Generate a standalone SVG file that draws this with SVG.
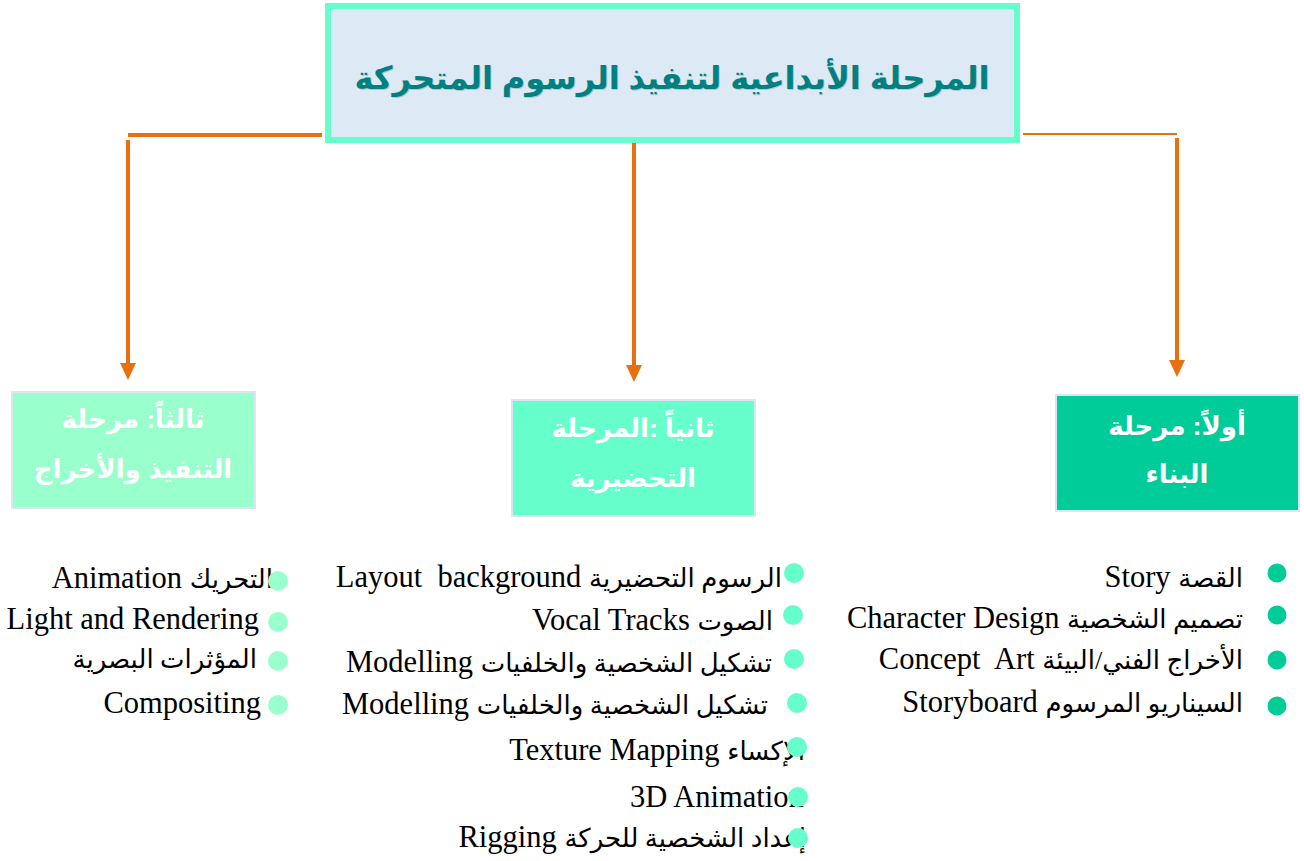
<svg xmlns="http://www.w3.org/2000/svg" width="1304" height="861" viewBox="0 0 1304 861">
<defs>
<style>
.conn{stroke:#E8700F;fill:none}
.head{fill:#E8700F}
.box{stroke:#DCE6F2;stroke-width:2}
.bt{font-family:"Liberation Sans","DejaVu Sans",sans-serif;font-weight:bold;font-size:26px;fill:#ffffff;text-anchor:middle}
.li{font-family:"Liberation Serif","DejaVu Serif","DejaVu Sans",serif;font-size:30.5px;fill:#000000;white-space:pre}
.ar{font-size:26px}
.e{text-anchor:end}
.b1{fill:#00CC99}
.b2{fill:#66FFCC}
.b3{fill:#99FFCC}
</style>
</defs>
<rect width="1304" height="861" fill="#ffffff"/>
<g id="connectors">
<line class="conn" x1="128" y1="135" x2="322" y2="135" stroke-width="4"/>
<line class="conn" x1="128" y1="140" x2="128" y2="366" stroke-width="4"/>
<polygon class="head" points="120,363 136,363 128,380"/>
<line class="conn" x1="634" y1="143" x2="634" y2="368" stroke-width="4"/>
<polygon class="head" points="626,365 642,365 634,382"/>
<line class="conn" x1="1023" y1="134" x2="1177" y2="134" stroke-width="2"/>
<line class="conn" x1="1177" y1="138" x2="1177" y2="362" stroke-width="4"/>
<polygon class="head" points="1169,360 1185,360 1177,377"/>
</g>
<g id="title">
<rect x="328" y="6" width="689" height="134" fill="#DDEAF5" stroke="#66FFCC" stroke-width="6"/>
<text x="673" y="90" font-family="'Liberation Sans','DejaVu Sans',sans-serif" font-weight="bold" font-size="32" fill="#B0C8C8" text-anchor="middle" direction="rtl">المرحلة الأبداعية لتنفيذ الرسوم المتحركة</text>
<text x="672" y="89" font-family="'Liberation Sans','DejaVu Sans',sans-serif" font-weight="bold" font-size="32" fill="#008080" text-anchor="middle" direction="rtl">المرحلة الأبداعية لتنفيذ الرسوم المتحركة</text>
</g>
<g id="node-third">
<rect class="box" x="12" y="392" width="243" height="116" fill="#99FFCC"/>
<text class="bt" x="133" y="428" direction="rtl">ثالثاً: مرحلة</text>
<text class="bt" x="133" y="478" direction="rtl">التنفيذ والأخراج</text>
</g>
<g id="node-second">
<rect class="box" x="512" y="400" width="243" height="116" fill="#66FFCC"/>
<text class="bt" x="633" y="437" direction="rtl">ثانياً :المرحلة</text>
<text class="bt" x="633" y="487" direction="rtl">التحضيرية</text>
</g>
<g id="node-first">
<rect class="box" x="1056" y="395" width="243" height="116" fill="#00CC99"/>
<text class="bt" x="1177" y="435" direction="rtl">أولاً: مرحلة</text>
<text class="bt" x="1177" y="483" direction="rtl">البناء</text>
</g>
<g id="list-first">
<text class="li e" x="1243" y="587">Story <tspan class="ar">القصة</tspan></text>
<text class="li e" x="1243" y="628">Character Design <tspan class="ar">تصميم الشخصية</tspan></text>
<text class="li e" x="1243" y="669">Concept  Art <tspan class="ar">الأخراج الفني/البيئة</tspan></text>
<text class="li e" x="1243" y="712">Storyboard <tspan class="ar">السيناريو المرسوم</tspan></text>
<circle class="b1" cx="1277" cy="573" r="9.5"/>
<circle class="b1" cx="1277" cy="615" r="9.5"/>
<circle class="b1" cx="1277" cy="660" r="9.5"/>
<circle class="b1" cx="1277" cy="706" r="9.5"/>
</g>
<g id="list-second">
<text class="li e" x="782" y="587">Layout  background <tspan class="ar">الرسوم التحضيرية</tspan></text>
<text class="li e" x="773" y="630">Vocal Tracks <tspan class="ar">الصوت</tspan></text>
<text class="li e" x="772" y="672">Modelling <tspan class="ar">تشكيل الشخصية والخلفيات</tspan></text>
<text class="li e" x="768" y="714">Modelling <tspan class="ar">تشكيل الشخصية والخلفيات</tspan></text>
<text class="li e" x="805" y="760">Texture Mapping <tspan class="ar">الإكساء</tspan></text>
<text class="li" x="630" y="807">3D Animation</text>
<text class="li e" x="806" y="847">Rigging <tspan class="ar">إعداد الشخصية للحركة</tspan></text>
<circle class="b2" cx="794" cy="573" r="10"/>
<circle class="b2" cx="793" cy="615" r="10"/>
<circle class="b2" cx="794" cy="659" r="10"/>
<circle class="b2" cx="797" cy="703" r="10"/>
<circle class="b2" cx="797" cy="747" r="10"/>
<circle class="b2" cx="798" cy="797" r="10"/>
<circle class="b2" cx="798" cy="838" r="10"/>
</g>
<g id="list-third">
<text class="li e" x="273" y="588">Animation <tspan class="ar">التحريك</tspan></text>
<text class="li e" x="259" y="629">Light and Rendering</text>
<text class="li e" x="257" y="668"><tspan class="ar">المؤثرات البصرية</tspan></text>
<text class="li e" x="261" y="713">Compositing</text>
<circle class="b3" cx="278" cy="581" r="10"/>
<circle class="b3" cx="278" cy="622" r="10"/>
<circle class="b3" cx="278" cy="661" r="10"/>
<circle class="b3" cx="278" cy="705" r="10"/>
</g>
</svg>
